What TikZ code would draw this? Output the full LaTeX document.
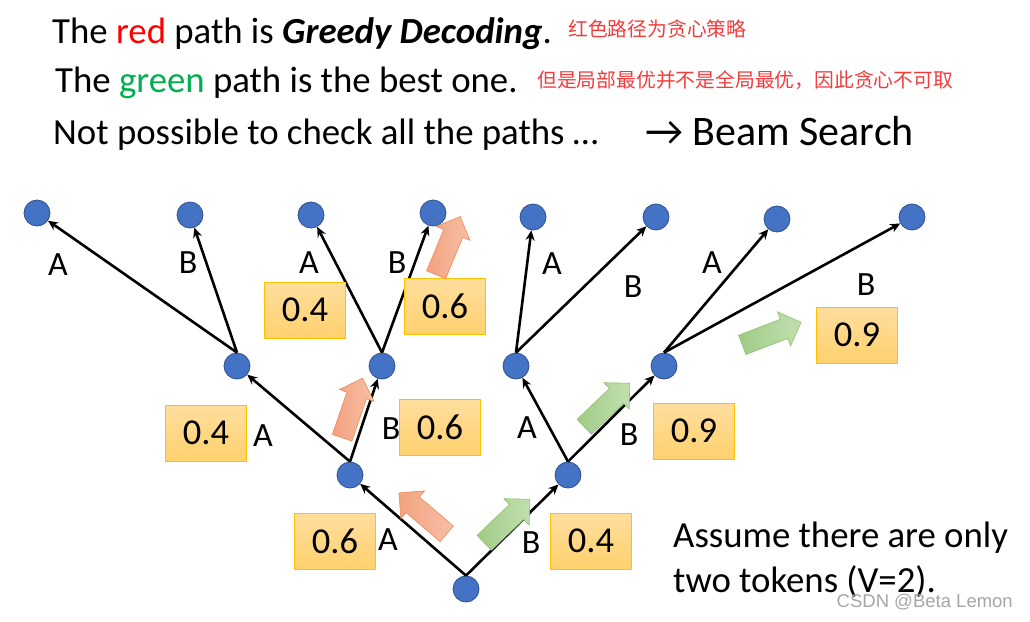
\documentclass[tikz,border=0pt]{standalone}
\usepackage{fontspec}
\setmainfont{Carlito}
\newfontfamily\cjk{Noto Sans CJK SC}
\newfontfamily\wmfont{Liberation Sans}
\usepackage{tikz}
\usetikzlibrary{shapes.arrows}
\usetikzlibrary{arrows.meta}
\definecolor{tokfill}{HTML}{4472C4}
\definecolor{tokline}{HTML}{2F528F}
\definecolor{probtop}{HTML}{FFDE9E}
\definecolor{probbot}{HTML}{FFD16E}
\definecolor{probline}{HTML}{FFC000}
\definecolor{redtail}{HTML}{F2A27F}
\definecolor{redhead}{HTML}{F7BFA6}
\definecolor{redline}{HTML}{F08A5A}
\definecolor{greentail}{HTML}{9FCB85}
\definecolor{greenhead}{HTML}{C2DFB0}
\definecolor{greenline}{HTML}{8DC26F}
\definecolor{notered}{HTML}{F23C3C}
\colorlet{pathred}{red}
\definecolor{pathgreen}{HTML}{00B050}

\begin{document}
\begin{tikzpicture}[x=1pt, y=-1pt,
        tok/.style={circle, fill=tokfill, draw=tokline, line width=0.8pt, minimum size=26pt, inner sep=0pt},
        link/.style={-{Stealth[length=10pt,width=9pt]}, line width=2.6pt},
        tokname/.style={inner sep=0pt, font=\fontsize{34}{36}\selectfont},
        prob/.style={draw=probline, line width=0.8pt, top color=probtop, bottom color=probbot, minimum width=81pt, minimum height=56pt, inner sep=0pt, font=\fontsize{36.5}{40}\selectfont},
        bigarrow/.style={single arrow, anchor=tail, inner xsep=0pt, inner ysep=10pt, minimum height=63pt, single arrow head extend=8pt, line width=0.6pt},
        redarrow/.style={bigarrow, draw=redline, left color=redtail, right color=redhead},
        greenarrow/.style={bigarrow, draw=greenline, left color=greentail, right color=greenhead},
        headline/.style={anchor=base west, inner sep=0pt, font=\fontsize{36.8}{40}\selectfont},
        note/.style={anchor=west, inner sep=0pt, text=notered, font=\cjk\fontsize{19.8}{22}\selectfont}]
    \useasboundingbox (0,0) rectangle (1030,621);

    % header
    \node [headline] (t1) at (52,43) {The \textcolor{pathred}{red} path is \textbf{\textit{Greedy Decoding}}.};
    \node [note] (n1) at (568,29) {红色路径为贪心策略};
    \node [headline] (t2) at (55,92) {The \textcolor{pathgreen}{green} path is the best one.};
    \node [note] (n2) at (537,80) {但是局部最优并不是全局最优，因此贪心不可取};
    \node [headline] (t3) at (53,144) {Not possible to check all the paths …};
    \node [headline, font=\fontsize{42}{46}\selectfont] (beam) at (645,145) {→ Beam Search};

    % tree
    \node [tok] (r) at (466,589) {};
    \node [tok] (a) at (350,475) {};
    \node [tok] (b) at (568,475) {};
    \node [tok] (aa) at (237,366) {};
    \node [tok] (ab) at (382,366) {};
    \node [tok] (ba) at (516,366) {};
    \node [tok] (bb) at (664,366) {};
    \node [tok] (aaa) at (37,213) {};
    \node [tok] (aab) at (190,215) {};
    \node [tok] (aba) at (311,215) {};
    \node [tok] (abb) at (433,213) {};
    \node [tok] (baa) at (533,217) {};
    \node [tok] (bab) at (656,217) {};
    \node [tok] (bba) at (777,219) {};
    \node [tok] (bbb) at (912,217) {};

    \draw [link] (r.north) -- (a);
    \draw [link] (r.north) -- (b);
    \draw [link] (a.north) -- (aa);
    \draw [link] (a.north) -- (ab);
    \draw [link] (b.north) -- (ba);
    \draw [link] (b.north) -- (bb);
    \draw [link] (aa.north) -- (aaa);
    \draw [link] (aa.north) -- (aab);
    \draw [link] (ab.north) -- (aba);
    \draw [link] (ab.north) -- (abb);
    \draw [link] (ba.north) -- (baa);
    \draw [link] (ba.north) -- (bab);
    \draw [link] (bb.north) -- (bba);
    \draw [link] (bb.north) -- (bbb);

    % probabilities
    \node [prob] (pa) at (335,541) {0.6};
    \node [prob] (pb) at (591,541) {0.4};
    \node [prob] (paa) at (206,433) {0.4};
    \node [prob] (pab) at (440,427) {0.6};
    \node [prob] (pbb) at (694,431) {0.9};
    \node [prob] (paba) at (305,310) {0.4};
    \node [prob] (pabb) at (445,306) {0.6};
    \node [prob] (pbbb) at (857,335) {0.9};

    % chosen paths
    \node [redarrow, rotate=139.5] (ra1) at (447,534) {};
    \node [redarrow, rotate=71] (ra2) at (342,438) {};
    \node [redarrow, rotate=67.5] (ra3) at (436,275) {};
    \node [greenarrow, rotate=43.7] (ga1) at (484,543) {};
    \node [greenarrow, rotate=43.7] (ga2) at (584,427) {};
    \node [greenarrow, rotate=21] (ga3) at (742,345) {};

    % tokens
    \node [tokname] (la) at (388,540) {A};
    \node [tokname] (lb) at (531,543) {B};
    \node [tokname] (laa) at (263,436) {A};
    \node [tokname] (lab) at (391,429) {B};
    \node [tokname] (lba) at (527,428) {A};
    \node [tokname] (lbb) at (629,435) {B};
    \node [tokname] (laaa) at (58,265) {A};
    \node [tokname] (laab) at (188,263) {B};
    \node [tokname] (laba) at (309,263) {A};
    \node [tokname] (labb) at (397,263) {B};
    \node [tokname] (lbaa) at (552,264) {A};
    \node [tokname] (lbab) at (633,287) {B};
    \node [tokname] (lbba) at (712,263) {A};
    \node [tokname] (lbbb) at (866,285) {B};

    \node [headline] (as1) at (673,547) {Assume there are only};
    \node [headline] (as2) at (673,592) {two tokens (V=2).};
    \node [anchor=base east, inner sep=0pt, text=black!35, font=\wmfont\fontsize{18.5}{20}\selectfont] (wm) at (1013,607) {CSDN @Beta Lemon};
\end{tikzpicture}
\end{document}
